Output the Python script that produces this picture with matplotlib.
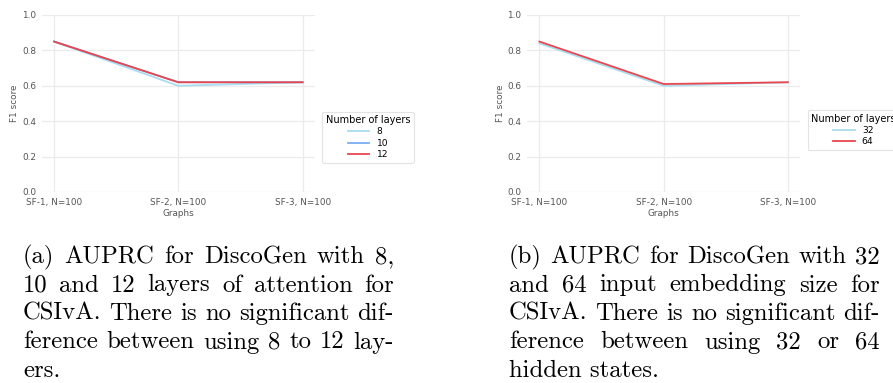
import numpy as np
import matplotlib
matplotlib.use("Agg")
import matplotlib.pyplot as plt

# datos
graphs = ["SF-1, N=100", "SF-2, N=100", "SF-3, N=100"]

layers_labels = ["8", "10", "12"]
f1_8 = [0.85, 0.60, 0.62]
f1_10 = [0.85, 0.62, 0.62]
f1_12 = [0.85, 0.62, 0.62]

emb_labels = ["32", "64"]
f1_32 = [0.84, 0.60, 0.62]
f1_64 = [0.85, 0.61, 0.62]

col_light = "#a9dcef"
col_blue = "#7aaef2"
col_red = "#e8464e"

caption_a = ["(a) AUPRC for DiscoGen with 8,",
             "10 and 12 layers of attention for",
             "CSIvA. There is no significant dif-",
             "ference between using 8 to 12 lay-",
             "ers."]
caption_b = ["(b) AUPRC for DiscoGen with 32",
             "and 64 input embedding size for",
             "CSIvA. There is no significant dif-",
             "ference between using 32 or 64",
             "hidden states."]

W, H = 893, 383
fig = plt.figure(figsize=(W / 100, H / 100), dpi=100)


def estilo_ejes(ax):
    ax.set_xlim(-0.1, 2.1)
    ax.set_ylim(0, 1)
    ax.set_xticks(range(len(graphs)))
    ax.set_xticklabels(graphs)
    ax.set_yticks(np.arange(0, 1.01, 0.2))
    ax.set_yticklabels(["%.1f" % v for v in np.arange(0, 1.01, 0.2)])
    for s in ax.spines.values():
        s.set_visible(False)
    ax.grid(True, color="#ebebeb", linewidth=0.9)
    ax.set_axisbelow(True)
    ax.tick_params(length=0, labelsize=6.4, labelcolor="#555555", pad=4)
    ax.set_xlabel("Graphs", fontsize=6.4, color="#555555", labelpad=2)
    ax.set_ylabel("F1 score", fontsize=6.4, color="#555555", labelpad=2)


x = np.arange(len(graphs))

ax1 = fig.add_axes([41.7 / W, 1 - 192 / H, 273.3 / W, 177 / H])
estilo_ejes(ax1)
ax1.plot(x, f1_8, color=col_light, lw=1.3, label=layers_labels[0])
ax1.plot(x, f1_10, color=col_blue, lw=1.3, label=layers_labels[1])
ax1.plot(x, f1_12, color=col_red, lw=1.3, label=layers_labels[2])
leg1 = ax1.legend(title="Number of layers", loc="center left", bbox_to_anchor=(1.01, 0.31),
                  fontsize=6.6, title_fontsize=7, handlelength=2.3, frameon=True,
                  borderpad=0.4, labelspacing=0.25)
leg1.get_frame().set_edgecolor("#dddddd")
leg1.get_frame().set_linewidth(0.8)

ax2 = fig.add_axes([527 / W, 1 - 192 / H, 273.3 / W, 177 / H])
estilo_ejes(ax2)
ax2.plot(x, f1_32, color=col_light, lw=1.3, label=emb_labels[0])
ax2.plot(x, f1_64, color=col_red, lw=1.3, label=emb_labels[1])
leg2 = ax2.legend(title="Number of layers", loc="center left", bbox_to_anchor=(1.01, 0.35),
                  fontsize=6.6, title_fontsize=7, handlelength=2.3, frameon=True,
                  borderpad=0.4, labelspacing=0.25)
leg2.get_frame().set_edgecolor("#dddddd")
leg2.get_frame().set_linewidth(0.8)


def caption(lineas, x0, x1, y0, dy, size=17.8):
    """Escribe el texto justificado como en LaTeX"""
    r = fig.canvas.get_renderer()
    for i, linea in enumerate(lineas):
        yb = 1 - (y0 + i * dy) / H
        if i == len(lineas) - 1:
            fig.text(x0 / W, yb, linea, family="cmr10", fontsize=size, va="baseline")
            continue
        palabras = linea.split(" ")
        textos = [fig.text(0, yb, p, family="cmr10", fontsize=size, va="baseline") for p in palabras]
        anchos = [t.get_window_extent(r).width for t in textos]
        hueco = (x1 - x0 - sum(anchos)) / (len(palabras) - 1)
        pos = x0
        for t, a in zip(textos, anchos):
            t.set_x(pos / W)
            pos += a + hueco


caption(caption_a, 23, 394, 263, 28.5)
caption(caption_b, 509, 880, 263, 28.5)

fig.savefig("out.png", dpi=100)
